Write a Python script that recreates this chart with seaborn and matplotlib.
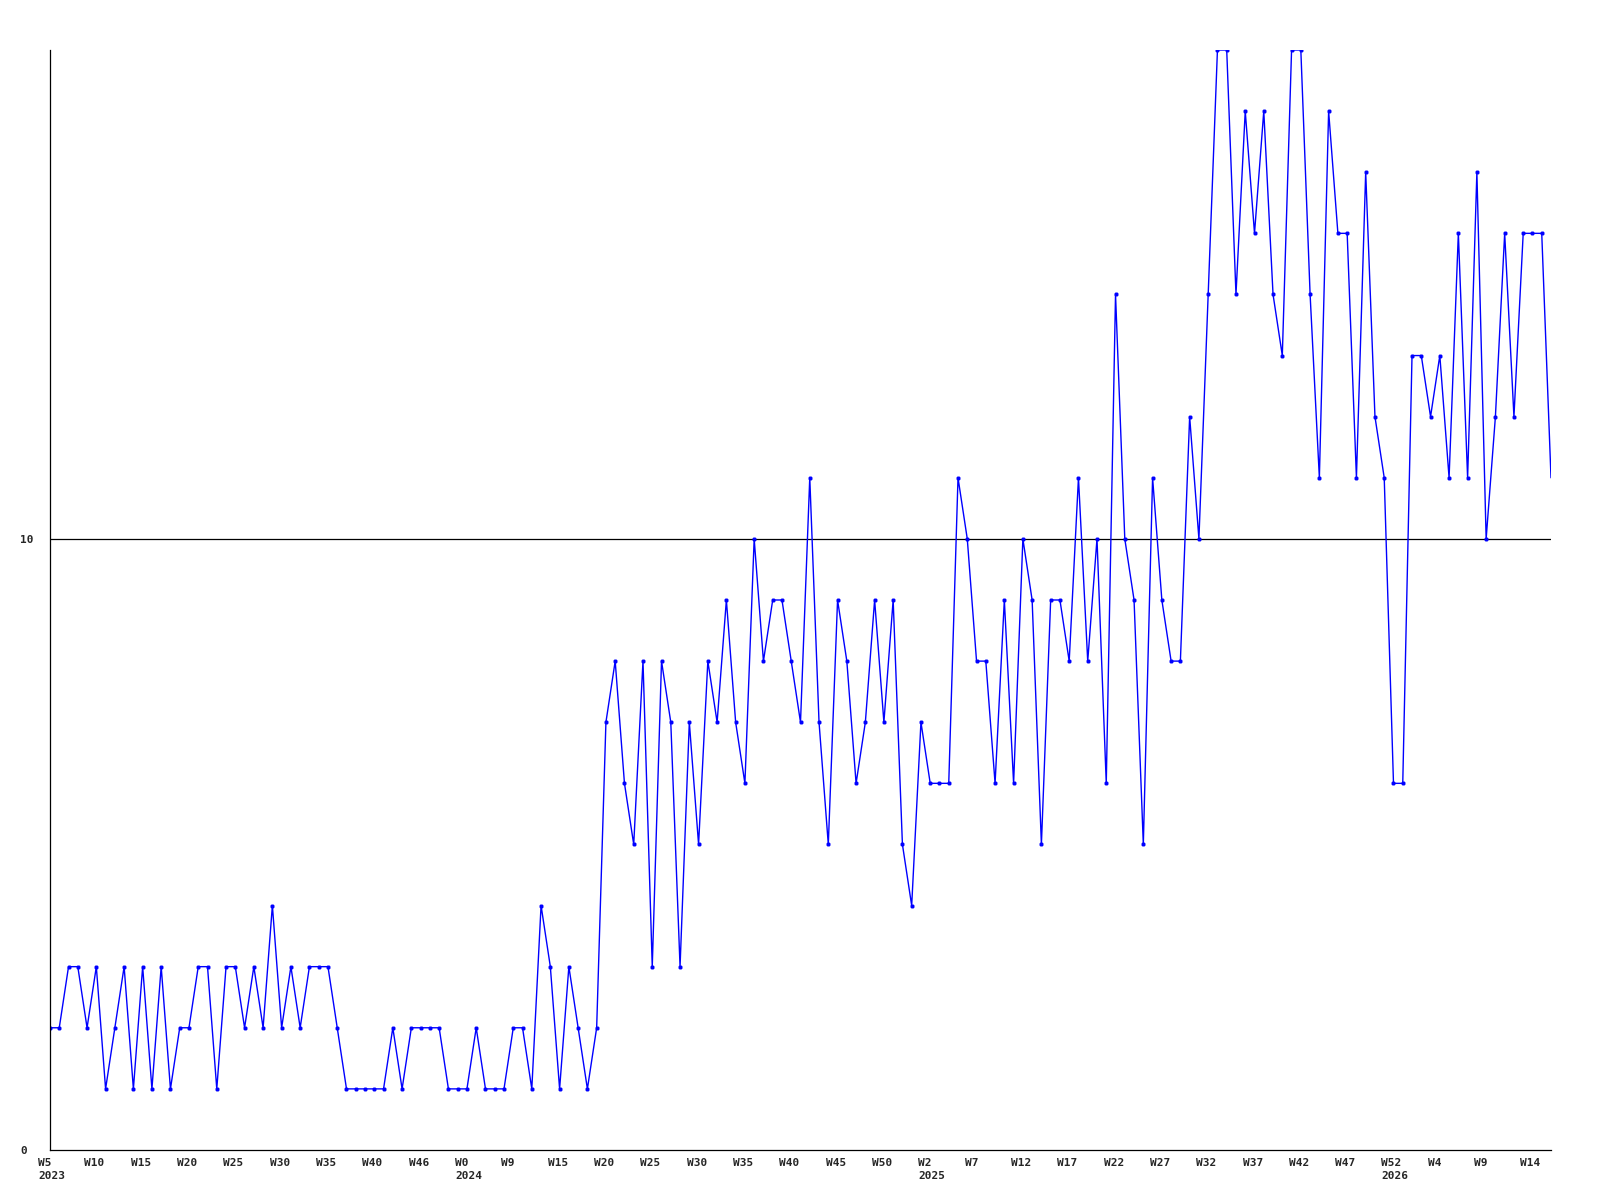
import numpy as np
import pandas as pd
import matplotlib
matplotlib.use("Agg")
import matplotlib.pyplot as plt
import matplotlib.transforms as mtransforms
import seaborn as sns

# weekly counts, W5 2023 .. W15 2026
counts_2023 = [2, 2, 3, 3, 2, 3, 1, 2, 3, 1, 3, 1, 3, 1, 2, 2, 3, 3, 1, 3,
               3, 2, 3, 2, 4, 2, 3, 2, 3, 3, 3, 2, 1, 1, 1, 1, 1, 2, 1, 2,
               2, 2, 2, 1, 1]
counts_2024 = [1, 2, 1, 1, 1, 2, 2, 1, 4, 3, 1, 3, 2, 1, 2,
               7, 8, 6, 5, 8, 3, 8, 7, 3, 7, 5, 8, 7, 9, 7, 6, 10, 8, 9, 9,
               8, 7, 11, 7, 5, 9, 8, 6, 7, 9, 7, 9, 5, 4, 7]
counts_2025 = [6, 6, 6, 11, 10, 8, 8, 6, 9, 6, 10, 9, 5, 9, 9,
               8, 11, 8, 10, 6, 14, 10, 9, 5, 11, 9, 8, 8, 12, 10,
               14, 18, 18, 14, 17, 15, 17, 14, 13, 18, 18, 14, 11, 17, 15,
               15, 11, 16, 12, 11]
counts_2026 = [6, 6, 13, 13, 12, 13, 11, 15, 11, 16, 10, 12, 15, 12, 15,
               15, 15, 11]

week_labels = ["W5", "W10", "W15", "W20", "W25", "W30", "W35", "W40", "W46",
               "W0", "W9", "W15", "W20", "W25", "W30", "W35", "W40", "W45", "W50",
               "W2", "W7", "W12", "W17", "W22", "W27", "W32", "W37", "W42", "W47",
               "W52", "W4", "W9", "W14"]
year_labels = {0: "2023", 9: "2024", 19: "2025", 29: "2026"}

values = counts_2023 + counts_2024 + counts_2025 + counts_2026
df = pd.DataFrame({"week": np.arange(len(values)), "count": values})
n = len(df)

sns.set_style("white")
plt.rcParams["font.family"] = ["DejaVu Sans Mono"]
plt.rcParams["font.weight"] = "bold"

fig = plt.figure(figsize=(16, 12), dpi=100)
ax = fig.add_axes([50 / 1600, 1 - 1150 / 1200, 1501 / 1600, 1100 / 1200])

sns.lineplot(data=df, x="week", y="count", ax=ax, color="#0000ff", lw=1.0,
             marker="+", markersize=3.5, markeredgewidth=1.8,
             markeredgecolor="#0000ff", markevery=list(range(n - 1)))

ax.axhline(10, color="black", lw=0.9, zorder=1)

ax.set_xlim(0, n - 1)
ax.set_ylim(0, 18)
ax.set_xlabel("")
ax.set_ylabel("")

ax.tick_params(axis="x", length=0, pad=5.5)
ax.tick_params(axis="y", length=0, pad=21.6)

# x ticks every fifth week, year written under the first tick of each year
ticks = list(range(0, n, 5))
labels = [w + ("\n" + year_labels[i] if i in year_labels else "")
          for i, w in enumerate(week_labels)]
ax.set_xticks(ticks)
ax.set_xticklabels(labels, fontsize=8, fontweight="bold", ha="left",
                   linespacing=1.45)
shift = mtransforms.ScaledTranslation(-12 / 100, 0, fig.dpi_scale_trans)
for lab in ax.get_xticklabels():
    lab.set_transform(lab.get_transform() + shift)

ax.set_yticks([0, 10])
ax.set_yticklabels(["0", "10"], fontsize=8, fontweight="bold", ha="left")

sns.despine(ax=ax, top=True, right=True)
for side in ["left", "bottom"]:
    ax.spines[side].set_color("black")
    ax.spines[side].set_linewidth(0.9)

fig.savefig("out.png", dpi=100, facecolor="white")
